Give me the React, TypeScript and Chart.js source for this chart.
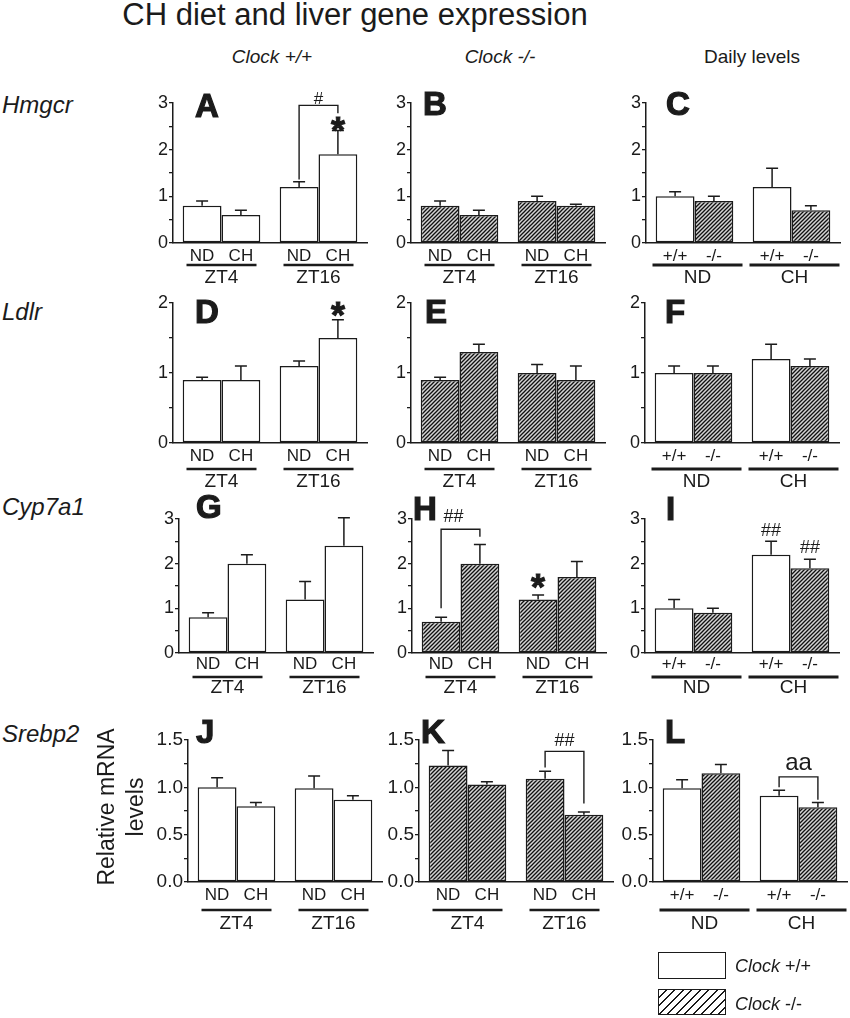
import { useEffect, useRef } from "react";
import { Chart, registerables } from "chart.js";

Chart.register(...registerables);

// ---- data (bar order: group 1 bar 1, group 1 bar 2, group 2 bar 1, group 2 bar 2) ----
const timeGroups = ["ZT4", "ZT16"];
const dietLabels = ["ND", "CH"];
const genotypeLabels = ["+/+", "-/-"];
const dietGroups = ["ND", "CH"];
const geneNames = ["Hmgcr", "Ldlr", "Cyp7a1", "Srebp2"];

const hmgcrWT = [0.8, 0.6, 1.2, 1.9];
const hmgcrWTErr = [0.1, 0.1, 0.11, 0.51];
const hmgcrKO = [0.8, 0.6, 0.9, 0.8];
const hmgcrKOErr = [0.1, 0.1, 0.1, 0.03];
const hmgcrDaily = [1.0, 0.9, 1.2, 0.7];
const hmgcrDailyErr = [0.1, 0.1, 0.4, 0.1];

const ldlrWT = [0.9, 0.9, 1.1, 1.5];
const ldlrWTErr = [0.04, 0.2, 0.07, 0.26];
const ldlrKO = [0.9, 1.3, 1.0, 0.9];
const ldlrKOErr = [0.04, 0.11, 0.12, 0.2];
const ldlrDaily = [1.0, 1.0, 1.2, 1.1];
const ldlrDailyErr = [0.1, 0.1, 0.21, 0.1];

const cypWT = [0.8, 2.0, 1.2, 2.4];
const cypWTErr = [0.1, 0.2, 0.4, 0.63];
const cypKO = [0.7, 2.0, 1.2, 1.7];
const cypKOErr = [0.1, 0.43, 0.1, 0.35];
const cypDaily = [1.0, 0.9, 2.2, 1.9];
const cypDailyErr = [0.2, 0.1, 0.3, 0.2];

const srebpWT = [1.0, 0.8, 0.99, 0.87];
const srebpWTErr = [0.1, 0.04, 0.13, 0.04];
const srebpKO = [1.23, 1.03, 1.09, 0.71];
const srebpKOErr = [0.16, 0.03, 0.08, 0.03];
const srebpDaily = [0.99, 1.15, 0.91, 0.79];
const srebpDailyErr = [0.09, 0.09, 0.06, 0.05];

// significance marks (positions in bar index / value units)
type Mark =
  | { type: "bracket"; from: number; to: number; top: number; left: number; right: number }
  | { type: "text"; at: number; y: number; text: string; size: number }
  | { type: "star"; at: number; y: number };

const marksA: Mark[] = [
  { type: "bracket", from: 2, to: 3, top: 2.95, left: 1.36, right: 2.78 },
  { type: "text", at: 2.5, y: 3.07, text: "#", size: 17 },
  { type: "star", at: 3, y: 2.56 },
];
const marksD: Mark[] = [{ type: "star", at: 3, y: 1.93 }];
const marksH: Mark[] = [
  { type: "bracket", from: 0, to: 1, top: 2.77, left: 1.0, right: 2.6 },
  { type: "text", at: 0.32, y: 3.04, text: "##", size: 18 },
  { type: "star", at: 2, y: 1.63 },
];
const marksI: Mark[] = [
  { type: "text", at: 2, y: 2.74, text: "##", size: 18 },
  { type: "text", at: 3, y: 2.34, text: "##", size: 18 },
];
const marksK: Mark[] = [
  { type: "bracket", from: 2, to: 3, top: 1.38, left: 1.21, right: 0.83 },
  { type: "text", at: 2.5, y: 1.49, text: "##", size: 18 },
];
const marksL: Mark[] = [
  { type: "bracket", from: 2, to: 3, top: 1.11, left: 1.0, right: 0.87 },
  { type: "text", at: 2.5, y: 1.25, text: "aa", size: 24 },
];

const FONT = '"Liberation Sans", Arial, Helvetica, sans-serif';
const INK = "#1b1b1b";

// layout
const PLOT_W = 194;
const YW = 42;
const PT = 24;
const PR = 14;
const PB = 54;

const rows = [
  { max: 3, step: 0.5, yTop: 102.5, y0: 243, sub: 13, line: 22, group: 35, tick: 18, axisX: [173, 411, 646] },
  { max: 2, step: 0.5, yTop: 303, y0: 443, sub: 13, line: 26, group: 39, tick: 18, axisX: [173, 411, 645] },
  { max: 3, step: 0.5, yTop: 519, y0: 653, sub: 11, line: 24, group: 35, tick: 18, axisX: [179, 412, 645] },
  { max: 1.5, step: 0.25, yTop: 740, y0: 882, sub: 13, line: 28, group: 42, tick: 19, axisX: [188, 419, 653] },
];

type PanelDef = {
  row: number;
  col: number;
  values: number[];
  errors: number[];
  marks: Mark[];
};

const panels: PanelDef[] = [
  { row: 0, col: 0, values: hmgcrWT, errors: hmgcrWTErr, marks: marksA },
  { row: 0, col: 1, values: hmgcrKO, errors: hmgcrKOErr, marks: [] },
  { row: 0, col: 2, values: hmgcrDaily, errors: hmgcrDailyErr, marks: [] },
  { row: 1, col: 0, values: ldlrWT, errors: ldlrWTErr, marks: marksD },
  { row: 1, col: 1, values: ldlrKO, errors: ldlrKOErr, marks: [] },
  { row: 1, col: 2, values: ldlrDaily, errors: ldlrDailyErr, marks: [] },
  { row: 2, col: 0, values: cypWT, errors: cypWTErr, marks: [] },
  { row: 2, col: 1, values: cypKO, errors: cypKOErr, marks: marksH },
  { row: 2, col: 2, values: cypDaily, errors: cypDailyErr, marks: marksI },
  { row: 3, col: 0, values: srebpWT, errors: srebpWTErr, marks: [] },
  { row: 3, col: 1, values: srebpKO, errors: srebpKOErr, marks: marksK },
  { row: 3, col: 2, values: srebpDaily, errors: srebpDailyErr, marks: marksL },
];

const letters = [
  { t: "A", x: 195, y: 117 },
  { t: "B", x: 423, y: 115 },
  { t: "C", x: 666, y: 115 },
  { t: "D", x: 195, y: 323 },
  { t: "E", x: 425, y: 323 },
  { t: "F", x: 665, y: 323 },
  { t: "G", x: 196, y: 518 },
  { t: "H", x: 413, y: 520 },
  { t: "I", x: 666, y: 520 },
  { t: "J", x: 196, y: 743 },
  { t: "K", x: 421, y: 743 },
  { t: "L", x: 665, y: 743 },
];
const rowLabelY = [113, 320, 515, 742];

function makeHatch(): CanvasPattern | string {
  const s = 4;
  const c = document.createElement("canvas");
  c.width = s;
  c.height = s;
  const g = c.getContext("2d");
  if (!g) return "#888";
  g.fillStyle = "#d4d4d4";
  g.fillRect(0, 0, s, s);
  g.strokeStyle = "#111";
  g.lineWidth = 1.3;
  g.beginPath();
  g.moveTo(-1, s + 1);
  g.lineTo(s + 1, -1);
  g.moveTo(-1, 1);
  g.lineTo(1, -1);
  g.moveTo(s - 1, s + 1);
  g.lineTo(s + 1, s - 1);
  g.stroke();
  return g.createPattern(c, "repeat") || "#888";
}

function barX(chart: Chart, b: number) {
  const xs: number[] = [];
  for (let i = 0; i < 2; i++)
    for (let j = 0; j < 2; j++) xs.push((chart.getDatasetMeta(j).data[i] as any).x);
  const lo = Math.floor(b);
  const hi = Math.ceil(b);
  return xs[lo] + (xs[hi] - xs[lo]) * (b - lo);
}

function Panel({ p }: { p: PanelDef }) {
  const ref = useRef<HTMLCanvasElement>(null);
  const r = rows[p.row];
  const left = r.axisX[p.col] - YW;
  const top = r.yTop - PT;
  const width = YW + PLOT_W + PR;
  const height = PT + (r.y0 - r.yTop) + PB;

  useEffect(() => {
    if (!ref.current) return;
    const hatch = makeHatch();
    const fills =
      p.col === 0 ? ["#fff", "#fff"] : p.col === 1 ? [hatch, hatch] : ["#fff", hatch];
    const subs = p.col === 2 ? genotypeLabels : dietLabels;
    const groups = p.col === 2 ? dietGroups : timeGroups;

    const overlay = {
      id: "overlay",
      afterDatasetsDraw(chart: Chart) {
        const ctx = chart.ctx;
        const y = chart.scales.y;
        ctx.save();
        ctx.strokeStyle = INK;
        ctx.lineWidth = 1.5;
        for (let b = 0; b < 4; b++) {
          const x = barX(chart, b);
          const y1 = y.getPixelForValue(p.values[b]);
          const y2 = y.getPixelForValue(p.values[b] + p.errors[b]);
          ctx.beginPath();
          ctx.moveTo(x, y1);
          ctx.lineTo(x, y2);
          ctx.moveTo(x - 6, y2);
          ctx.lineTo(x + 6, y2);
          ctx.stroke();
        }
        ctx.restore();
      },
      afterDraw(chart: Chart) {
        const ctx = chart.ctx;
        const y = chart.scales.y;
        const base = chart.chartArea.bottom;
        ctx.save();
        ctx.fillStyle = INK;
        ctx.strokeStyle = INK;
        ctx.textAlign = "center";
        ctx.textBaseline = "middle";
        ctx.font = `17px ${FONT}`;
        for (let b = 0; b < 4; b++) ctx.fillText(subs[b % 2], barX(chart, b), base + r.sub);
        const half = p.col === 2 ? 45 : 35;
        const shift = p.col === 2 ? 3 : 0;
        ctx.lineWidth = p.col === 2 ? 3 : 2.5;
        for (let g = 0; g < 2; g++) {
          const cx = (barX(chart, 2 * g) + barX(chart, 2 * g + 1)) / 2 + shift;
          ctx.beginPath();
          ctx.moveTo(cx - half, base + r.line);
          ctx.lineTo(cx + half, base + r.line);
          ctx.stroke();
          ctx.font = `19px ${FONT}`;
          ctx.fillText(groups[g], cx, base + r.group);
        }
        ctx.lineWidth = 1.4;
        for (const m of p.marks) {
          if (m.type === "bracket") {
            const xa = barX(chart, m.from);
            const xb = barX(chart, m.to);
            ctx.beginPath();
            ctx.moveTo(xa, y.getPixelForValue(m.left));
            ctx.lineTo(xa, y.getPixelForValue(m.top));
            ctx.lineTo(xb, y.getPixelForValue(m.top));
            ctx.lineTo(xb, y.getPixelForValue(m.right));
            ctx.stroke();
          } else if (m.type === "text") {
            ctx.font = `${m.size}px ${FONT}`;
            ctx.textBaseline = "middle";
            ctx.fillText(m.text, barX(chart, m.at), y.getPixelForValue(m.y));
          } else {
            const f = 36;
            ctx.font = `bold ${f}px ${FONT}`;
            ctx.textBaseline = "alphabetic";
            ctx.lineWidth = 1;
            const sx = barX(chart, m.at);
            const sy = y.getPixelForValue(m.y) + 0.55 * f;
            ctx.fillText("*", sx, sy);
            ctx.strokeText("*", sx, sy);
          }
        }
        ctx.restore();
      },
    };

    const chart = new Chart(ref.current, {
      type: "bar",
      data: {
        labels: groups,
        datasets: [0, 1].map((j) => ({
          data: [p.values[j], p.values[2 + j]],
          backgroundColor: fills[j] as any,
          borderColor: INK,
          borderWidth: 1.5,
          borderSkipped: false,
          categoryPercentage: 0.8,
          barPercentage: 1.0,
        })),
      },
      options: {
        animation: false,
        responsive: false,
        events: [],
        layout: { padding: { top: PT, right: PR, bottom: PB, left: 0 } },
        plugins: { legend: { display: false }, tooltip: { enabled: false } },
        scales: {
          x: {
            grid: { display: false },
            ticks: { display: false },
            border: { color: INK, width: 1.5 },
            afterFit: (s: any) => {
              s.height = 0;
            },
          },
          y: {
            min: 0,
            max: r.max,
            ticks: {
              stepSize: r.step,
              autoSkip: false,
              padding: 1,
              color: INK,
              font: { family: FONT, size: r.tick },
              callback: (v: any) => {
                const n = Number(v);
                if (r.step === 0.25) return Math.abs(n * 2 - Math.round(n * 2)) < 1e-9 ? n.toFixed(1) : "";
                return Number.isInteger(n) ? String(n) : "";
              },
            },
            grid: {
              drawOnChartArea: false,
              drawTicks: true,
              tickLength: 4,
              color: INK,
              lineWidth: 1.3,
            },
            border: { color: INK, width: 1.5 },
            afterFit: (s: any) => {
              s.width = YW;
            },
          },
        },
      },
      plugins: [overlay],
    });
    return () => chart.destroy();
  }, [p]);

  return (
    <canvas
      ref={ref}
      width={width}
      height={height}
      style={{ position: "absolute", left, top, width, height }}
    />
  );
}

function Txt({
  x,
  y,
  size,
  children,
  center,
  italic,
  bold,
}: {
  x: number;
  y: number;
  size: number;
  children: any;
  center?: boolean;
  italic?: boolean;
  bold?: boolean;
}) {
  return (
    <div
      style={{
        position: "absolute",
        left: center ? x - 300 : x,
        width: center ? 600 : undefined,
        top: y - 0.8465 * size,
        fontSize: size,
        lineHeight: `${size}px`,
        textAlign: center ? "center" : "left",
        fontStyle: italic ? "italic" : "normal",
        fontWeight: bold ? "bold" : "normal",
        WebkitTextStroke: bold ? "1.2px" : undefined,
        whiteSpace: "nowrap",
      }}
    >
      {children}
    </div>
  );
}

export default function App() {
  return (
    <div
      style={{
        position: "absolute",
        left: 0,
        top: 0,
        width: 850,
        height: 1018,
        overflow: "hidden",
        background: "#fff",
        color: INK,
        fontFamily: FONT,
      }}
    >
      {panels.map((p, i) => (
        <Panel key={i} p={p} />
      ))}

      <Txt x={355} y={25} size={31} center>
        CH diet and liver gene expression
      </Txt>
      <Txt x={272} y={63} size={19} center italic>
        Clock +/+
      </Txt>
      <Txt x={500} y={63} size={19} center italic>
        Clock -/-
      </Txt>
      <Txt x={752} y={63} size={19} center>
        Daily levels
      </Txt>

      {geneNames.map((g, i) => (
        <Txt key={g} x={2} y={rowLabelY[i]} size={24} italic>
          {g}
        </Txt>
      ))}

      {letters.map((l) => (
        <Txt key={l.t} x={l.x} y={l.y} size={33} bold>
          {l.t}
        </Txt>
      ))}

      <div
        style={{
          position: "absolute",
          left: 120.5 - 100,
          top: 807 - 29,
          width: 200,
          height: 58,
          lineHeight: "29px",
          fontSize: 23,
          textAlign: "center",
          transform: "rotate(-90deg)",
          transformOrigin: "50% 50%",
          whiteSpace: "nowrap",
        }}
      >
        Relative mRNA
        <br />
        levels
      </div>

      <div
        style={{
          position: "absolute",
          left: 658,
          top: 952,
          width: 66,
          height: 25,
          border: `1.5px solid ${INK}`,
          background: "#fff",
        }}
      />
      <div
        style={{
          position: "absolute",
          left: 658,
          top: 989,
          width: 66,
          height: 24,
          border: `1.5px solid ${INK}`,
          background: `repeating-linear-gradient(135deg, #fff 0 4.5px, ${INK} 4.5px 6px)`,
        }}
      />
      <Txt x={735} y={972} size={18}>
        <i>Clock</i> +/+
      </Txt>
      <Txt x={735} y={1010} size={18}>
        <i>Clock</i> -/-
      </Txt>
    </div>
  );
}
